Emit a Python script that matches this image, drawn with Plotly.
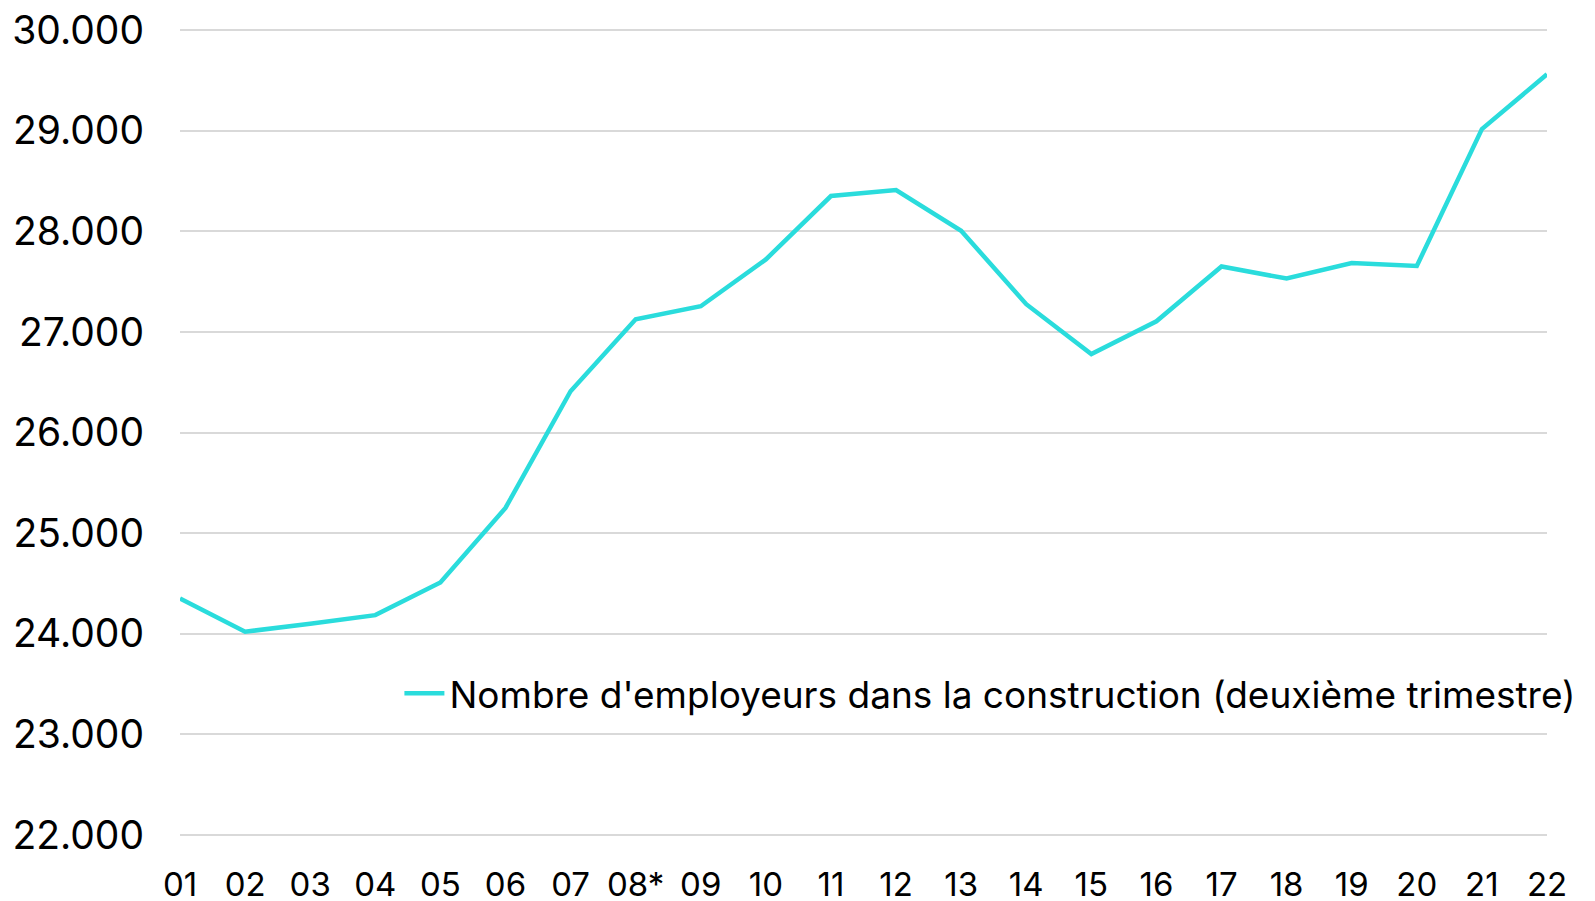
import plotly.graph_objects as go

categories = ["01", "02", "03", "04", "05", "06", "07", "08*", "09", "10", "11",
              "12", "13", "14", "15", "16", "17", "18", "19", "20", "21", "22"]
employers = [24350, 24020, 24100, 24185, 24510, 25250, 26410, 27125, 27255, 27720, 28350,
             28410, 28005, 27275, 26780, 27105, 27650, 27530, 27685, 27655, 29015, 29560]
y_ticks = [22000, 23000, 24000, 25000, 26000, 27000, 28000, 29000, 30000]
series_name = "Nombre d'employeurs dans la construction (deuxième trimestre)"

FONT = "Inter"

fig = go.Figure()
fig.add_trace(go.Scatter(
    x=categories, y=employers, mode="lines", name=series_name,
    line=dict(color="#2adcdc", width=4.5),
))

fig.update_layout(
    width=1595, height=901,
    margin=dict(l=180, r=48, t=27, b=63),
    paper_bgcolor="white", plot_bgcolor="white",
    separators=",.",
    font=dict(family=FONT, size=36, color="#000000"),
    showlegend=True,
    legend=dict(x=0.1605, y=0.178, xanchor="left", yanchor="middle",
                bgcolor="rgba(0,0,0,0)", font=dict(size=37, family=FONT),
                itemwidth=40, borderwidth=0),
)
fig.update_xaxes(
    type="category", range=[0, len(categories) - 1], automargin=False,
    showgrid=False, showline=False, zeroline=False,
    ticks="", tickfont=dict(size=33, family=FONT),
    ticklabelstandoff=24,
)
fig.update_yaxes(
    range=[21970, 30030], tickvals=y_ticks, tickformat=",d", automargin=False,
    showgrid=True, gridcolor="#d9d9d9", gridwidth=1.5,
    showline=False, zeroline=False, ticks="",
    tickfont=dict(size=39, family=FONT),
    ticklabelstandoff=35,
)

fig.write_html(
    "out.html",
    config={"displayModeBar": False},
    post_script="document.body.style.margin='0';document.body.style.overflow='hidden';",
)
